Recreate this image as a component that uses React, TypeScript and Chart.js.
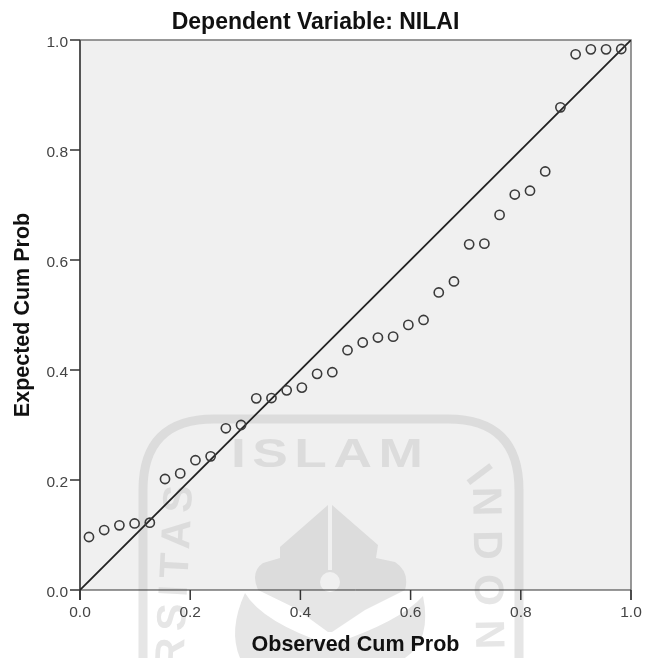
import React, { useEffect, useRef } from "react";
import { Chart, registerables } from "chart.js";

Chart.register(...registerables);

const observed = [0.0163, 0.0439, 0.0715, 0.0991, 0.1267, 0.1543, 0.1819, 0.2095, 0.2371, 0.2647, 0.2923, 0.3199, 0.3475, 0.3751, 0.4027, 0.4303, 0.4579, 0.4855, 0.5131, 0.5407, 0.5683, 0.5959, 0.6235, 0.6511, 0.6787, 0.7063, 0.7339, 0.7615, 0.7891, 0.8167, 0.8443, 0.8719, 0.8995, 0.9271, 0.9547, 0.9823];
const expected = [0.0964, 0.109, 0.1176, 0.121, 0.1224, 0.2018, 0.212, 0.236, 0.243, 0.294, 0.3, 0.3485, 0.349, 0.363, 0.368, 0.393, 0.396, 0.436, 0.45, 0.459, 0.4606, 0.482, 0.491, 0.541, 0.561, 0.6285, 0.6297, 0.682, 0.719, 0.726, 0.761, 0.8776, 0.974, 0.983, 0.983, 0.9836];
const refLineX = [0, 1];
const refLineY = [0, 1];
const ticks = [0, 0.2, 0.4, 0.6, 0.8, 1];
const titleText = "Dependent Variable: NILAI";
const xTitle = "Observed Cum Prob";
const yTitle = "Expected Cum Prob";
const FONT = "'Liberation Sans', Arial, sans-serif";

function drawWatermark(ctx: any, color: string, bg: string) {
  ctx.save();
  ctx.strokeStyle = color;
  ctx.fillStyle = color;
  ctx.lineWidth = 9;
  ctx.lineJoin = "round";
  // rounded frame
  ctx.beginPath();
  ctx.moveTo(143, 658);
  ctx.lineTo(143, 490);
  ctx.quadraticCurveTo(143, 419, 214, 419);
  ctx.lineTo(448, 419);
  ctx.quadraticCurveTo(519, 419, 519, 490);
  ctx.lineTo(519, 658);
  ctx.stroke();
  // lettering
  ctx.font = `bold 41px ${FONT}`;
  ctx.textBaseline = "alphabetic";
  ctx.letterSpacing = "5px";
  ctx.save();
  ctx.translate(231, 467);
  ctx.scale(1.3, 1);
  ctx.fillText("ISLAM", 0, 0);
  ctx.restore();
  ctx.letterSpacing = "7px";
  ctx.save();
  ctx.translate(183, 668);
  ctx.rotate(-Math.PI / 2 + 0.05);
  ctx.fillText("RSITAS", 0, 0);
  ctx.restore();
  ctx.letterSpacing = "0px";
  ctx.save();
  ctx.translate(465, 478);
  ctx.rotate(0.93);
  ctx.fillText("I", 0, 0);
  ctx.restore();
  ctx.letterSpacing = "14px";
  ctx.save();
  ctx.translate(473, 487);
  ctx.rotate(Math.PI / 2 - 0.02);
  ctx.fillText("NDON", 0, 0);
  ctx.restore();
  ctx.letterSpacing = "0px";
  // crescent
  ctx.beginPath();
  ctx.moveTo(245, 593);
  ctx.quadraticCurveTo(262, 622, 330, 645);
  ctx.quadraticCurveTo(400, 622, 423, 596);
  ctx.quadraticCurveTo(432, 640, 405, 658);
  ctx.lineTo(240, 658);
  ctx.quadraticCurveTo(228, 630, 245, 593);
  ctx.closePath();
  ctx.fill();
  // dome
  ctx.beginPath();
  ctx.moveTo(328, 505);
  ctx.lineTo(328, 570);
  ctx.lineTo(332, 570);
  ctx.lineTo(332, 505);
  ctx.lineTo(378, 545);
  ctx.lineTo(376, 558);
  ctx.lineTo(395, 562);
  ctx.quadraticCurveTo(410, 572, 405, 590);
  ctx.lineTo(365, 610);
  ctx.lineTo(332, 632);
  ctx.lineTo(328, 632);
  ctx.lineTo(295, 608);
  ctx.lineTo(258, 590);
  ctx.quadraticCurveTo(250, 572, 263, 563);
  ctx.lineTo(280, 558);
  ctx.lineTo(280, 547);
  ctx.closePath();
  ctx.fill();
  ctx.fillStyle = bg;
  ctx.beginPath();
  ctx.arc(330, 582, 10, 0, Math.PI * 2);
  ctx.fill();
  ctx.restore();
}

const backdrop = {
  id: "backdrop",
  beforeDraw(chart: any) {
    const { ctx, chartArea: a } = chart;
    // the y tick labels sit a little below their tick marks
    if (!chart.$labelsShifted) {
      chart.scales.y.getLabelItems(a).forEach((item: any) => {
        item.options.translation[1] += 2.5;
      });
      chart.$labelsShifted = true;
    }
    ctx.save();
    ctx.fillStyle = "#ffffff";
    ctx.fillRect(0, 0, chart.width, chart.height);
    drawWatermark(ctx, "#e6e6e6", "#ffffff");
    ctx.beginPath();
    ctx.rect(a.left, a.top, a.right - a.left, a.bottom - a.top);
    ctx.clip();
    ctx.fillStyle = "#f0f0f0";
    ctx.fillRect(a.left, a.top, a.right - a.left, a.bottom - a.top);
    drawWatermark(ctx, "#dcdcdc", "#f0f0f0");
    ctx.restore();
  },
};

const frame = {
  id: "frame",
  beforeDatasetsDraw(chart: any) {
    const { ctx, chartArea: a, scales } = chart;
    ctx.save();
    ctx.strokeStyle = "#777777";
    ctx.lineWidth = 1.5;
    ctx.beginPath();
    ctx.moveTo(a.left, a.top);
    ctx.lineTo(a.right, a.top);
    ctx.lineTo(a.right, a.bottom + 10);
    ctx.stroke();
    ctx.strokeStyle = "#555555";
    ctx.lineWidth = 2;
    ctx.beginPath();
    ctx.moveTo(a.left, a.top);
    ctx.lineTo(a.left, a.bottom + 10);
    ctx.stroke();
    ctx.strokeStyle = "#333333";
    ctx.lineWidth = 1;
    ctx.beginPath();
    ctx.moveTo(a.left, a.bottom);
    ctx.lineTo(a.right, a.bottom);
    ctx.stroke();
    ctx.lineWidth = 1.5;
    ctx.beginPath();
    ticks.forEach((t) => {
      const py = scales.y.getPixelForValue(t);
      const px = scales.x.getPixelForValue(t);
      ctx.moveTo(a.left - 10, py);
      ctx.lineTo(a.left, py);
      ctx.moveTo(px, a.bottom);
      ctx.lineTo(px, a.bottom + 10);
    });
    ctx.stroke();
    ctx.restore();
  },
};

export default function App() {
  const ref = useRef<HTMLCanvasElement>(null);
  useEffect(() => {
    document.body.style.margin = "0";
    const chart = new Chart(ref.current!, {
      type: "scatter",
      data: {
        datasets: [
          {
            label: "Points",
            data: observed.map((x, i) => ({ x, y: expected[i] })),
            showLine: false,
            pointRadius: 4.6,
            pointBorderWidth: 1.6,
            pointBorderColor: "#3a3a3a",
            pointBackgroundColor: "rgba(0,0,0,0)",
          },
          {
            label: "Reference",
            data: refLineX.map((x, i) => ({ x, y: refLineY[i] })),
            showLine: true,
            pointRadius: 0,
            borderWidth: 1.8,
            borderColor: "#222222",
          },
        ],
      },
      options: {
        animation: false,
        responsive: false,
        layout: { padding: { right: 14, top: 0, bottom: 0, left: 0 } },
        plugins: {
          legend: { display: false },
          tooltip: { enabled: false },
          title: {
            display: true,
            text: titleText,
            color: "#111111",
            font: { family: FONT, size: 23, weight: "bold" },
            padding: { top: 9, bottom: 3.4 },
          },
        },
        scales: {
          x: {
            type: "linear",
            min: 0,
            max: 1,
            afterFit(s: any) {
              s.height = 68;
              s.paddingLeft = 0;
              s.paddingRight = 0;
            },
            afterBuildTicks(s: any) { s.ticks = ticks.map((value) => ({ value })); },
            grid: { display: false, drawTicks: false },
            border: { display: false },
            ticks: {
              color: "#444444",
              font: { family: FONT, size: 15.5 },
              padding: 13,
              maxRotation: 0,
              callback: (v: any) => Number(v).toFixed(1),
            },
            title: {
              display: true,
              text: xTitle,
              color: "#111111",
              font: { family: FONT, size: 21.5, weight: "bold" },
              padding: { top: 0, bottom: 0 },
            },
          },
          y: {
            type: "linear",
            min: 0,
            max: 1,
            afterFit(s: any) {
              s.width = 80;
              s.paddingTop = 0;
              s.paddingBottom = 0;
            },
            afterBuildTicks(s: any) { s.ticks = ticks.map((value) => ({ value })); },
            grid: { display: false, drawTicks: false },
            border: { display: false },
            ticks: {
              color: "#444444",
              font: { family: FONT, size: 15.5 },
              padding: 12,
              callback: (v: any) => Number(v).toFixed(1),
            },
            title: {
              display: true,
              text: yTitle,
              color: "#111111",
              font: { family: FONT, size: 21.5, weight: "bold" },
              padding: { top: 10, bottom: 0 },
            },
          },
        },
      },
      plugins: [backdrop, frame],
    } as any);
    return () => chart.destroy();
  }, []);
  return <canvas ref={ref} width={645} height={658} style={{ display: "block" }} />;
}
